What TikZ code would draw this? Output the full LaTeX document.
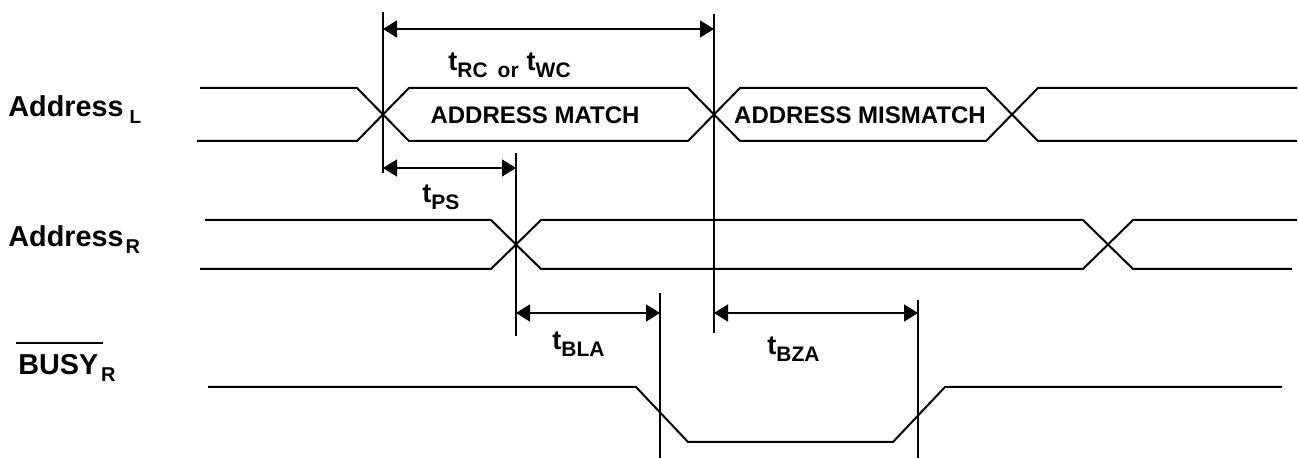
\documentclass[tikz,border=0pt]{standalone}
\usepackage{fontspec}
\setmainfont{Liberation Sans}
\usetikzlibrary{arrows.meta}
\tikzset{%
  wave/.style   = {line width=1pt, line join=miter},%
  marker/.style = {line width=1pt},%
  span/.style   = {line width=0.8pt,%
                   {Triangle[length=7pt,width=8.5pt]}-{Triangle[length=7pt,width=8.5pt]}},%
  sig/.style    = {font=\fontsize{14.4}{16}\selectfont\bfseries},%
  tlabel/.style = {font=\fontsize{13.5}{15}\selectfont\bfseries},%
  state/.style  = {font=\fontsize{12}{14}\selectfont\bfseries, anchor=center}%
}
\newcommand{\lo}[2][9.5]{\raisebox{-3.5pt}{\fontsize{#1}{10}\selectfont #2}}

\begin{document}
\begin{tikzpicture}[x=0.5pt,y=-0.5pt,
		every node/.style={inner sep=0pt, anchor=base west}]
		\useasboundingbox (0,0) rectangle (1298,458);
		% signal names
		\node [sig] (addrL) at (8,117) {Address\kern3pt\lo{L}};
		\node [sig] (addrR) at (8,247) {Address\kern1pt\lo[10]{R}};
		\node [sig] (busy) at (18,375) {BUSY};
		\node [sig] (busyR) at (busy.base east) {\kern1pt\lo[10]{R}};
		\draw [marker] ([xshift=-1pt,yshift=5.5pt]busy.north west) -- ([xshift=2pt,yshift=5.5pt]busy.north east);
		% waveforms
		\draw [wave] (200,88) -- (357,88) -- (409,141) -- (688,141) -- (740,88)
			-- (986,88) -- (1038,141) -- (1297,141);
		\draw [wave] (197,141) -- (357,141) -- (409,88) -- (688,88) -- (740,141)
			-- (986,141) -- (1038,88) -- (1297,88);
		\node [state] (match) at (535,115) {ADDRESS MATCH};
		\node [state] (mismatch) at (860,115) {ADDRESS MISMATCH};
		\draw [wave] (205,220) -- (491,220) -- (541,269) -- (1083,269) -- (1133,220) -- (1297,220);
		\draw [wave] (200,269) -- (491,269) -- (541,220) -- (1083,220) -- (1133,269) -- (1292,269);
		\draw [wave] (208,387) -- (636,387) -- (688,442) -- (893,442) -- (945,387) -- (1282,387);
		% timing edges
		\foreach \n/\x/\a/\b in {e1/383/12/173, e2/714/14/333, e3/516/153/336,
				e4/660/293/458, e5/918/300/458}{
			\coordinate (\n t) at (\x,\a);
			\coordinate (\n b) at (\x,\b);
			\draw [marker] (\n t) -- (\n b);
		}
		\coordinate (rcA) at (383,29);  \coordinate (rcB) at (714,29);
		\coordinate (psA) at (383,168); \coordinate (psB) at (516,168);
		\coordinate (blA) at (516,313); \coordinate (blB) at (660,313);
		\coordinate (bzA) at (714,313); \coordinate (bzB) at (918,313);
		\draw [span] (rcA) -- (rcB);
		\draw [span] (psA) -- (psB);
		\draw [span] (blA) -- (blB);
		\draw [span] (bzA) -- (bzB);
		\node [tlabel] (tRC) at (448,71) {t\lo[10.5]{RC\hspace{5pt}or\hspace{4pt}}t\lo[10.5]{WC}};
		\node [tlabel] (tPS) at (422,203) {t\lo[10.5]{PS}};
		\node [tlabel] (tBLA) at (552,350) {t\lo[10.5]{BLA}};
		\node [tlabel] (tBZA) at (767,355) {t\lo[10.5]{BZA}};
\end{tikzpicture}
\end{document}
